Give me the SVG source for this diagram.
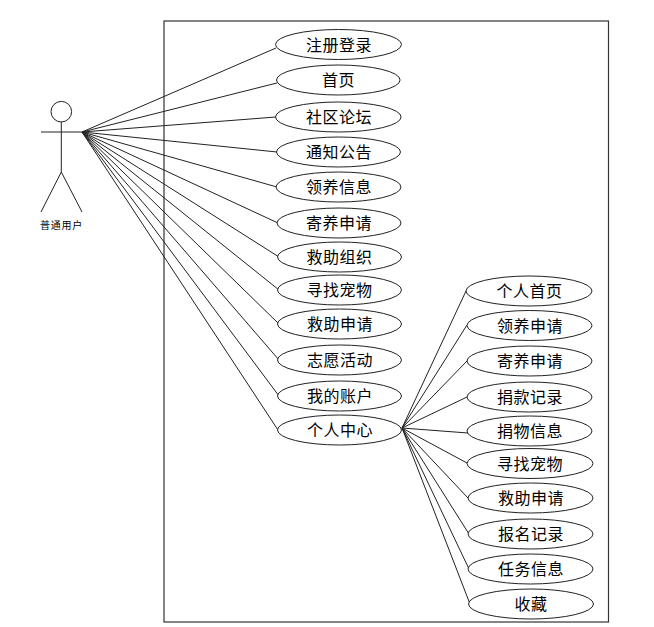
<svg xmlns="http://www.w3.org/2000/svg" width="654" height="627" viewBox="0 0 654 627">
<style>
.bg{fill:#fff}
.frame{fill:none;stroke:#333;stroke-width:1.2}
line{stroke:#222;stroke-width:1}
ellipse{fill:#fff;stroke:#222;stroke-width:1}
.actor{fill:none;stroke:#222;stroke-width:1}
text{font-family:"Noto Sans CJK SC","Liberation Sans",sans-serif;font-size:16px;letter-spacing:0.5px;fill:#000;text-anchor:middle;dominant-baseline:central;transform:translateY(-1px)}
.small{font-size:10px;letter-spacing:0.8px}
</style>
<rect class="bg" width="654" height="627"/>
<rect class="frame" x="164" y="21" width="444.5" height="601"/>
<g id="connectors">
<line x1="82" y1="132" x2="276" y2="48"/>
<line x1="82" y1="132" x2="277" y2="83"/>
<line x1="82" y1="132" x2="276" y2="117"/>
<line x1="82" y1="132" x2="277" y2="152"/>
<line x1="82" y1="132" x2="277" y2="187"/>
<line x1="82" y1="132" x2="278" y2="223"/>
<line x1="82" y1="132" x2="279" y2="257"/>
<line x1="82" y1="132" x2="279" y2="290"/>
<line x1="82" y1="132" x2="279" y2="324"/>
<line x1="82" y1="132" x2="279" y2="360"/>
<line x1="82" y1="132" x2="279" y2="396"/>
<line x1="82" y1="132" x2="278" y2="430"/>
<line x1="402" y1="428" x2="466" y2="291"/>
<line x1="402" y1="428" x2="467" y2="325"/>
<line x1="402" y1="428" x2="467" y2="361"/>
<line x1="402" y1="428" x2="467" y2="397"/>
<line x1="402" y1="428" x2="468" y2="433"/>
<line x1="402" y1="428" x2="467" y2="463"/>
<line x1="402" y1="428" x2="468" y2="498"/>
<line x1="402" y1="428" x2="469" y2="534"/>
<line x1="402" y1="428" x2="469" y2="569"/>
<line x1="402" y1="428" x2="470" y2="604"/>
</g>
<g id="actor">
<circle class="actor" cx="61.3" cy="111.7" r="10.3"/>
<path class="actor" d="M61.3 122V172M41 132H82M61.3 172L41 212M61.3 172L82 212"/>
<text class="small" x="61.5" y="225">普通用户</text>
</g>
<g id="n1"><ellipse cx="338.5" cy="44.5" rx="63" ry="15"/><text x="339" y="44.5">注册登录</text></g>
<g id="n2"><ellipse cx="338.3" cy="80" rx="61.8" ry="15"/><text x="338.5" y="80">首页</text></g>
<g id="n3"><ellipse cx="338.3" cy="117" rx="62.8" ry="15"/><text x="339" y="117">社区论坛</text></g>
<g id="n4"><ellipse cx="338.5" cy="152" rx="62" ry="15"/><text x="339" y="152">通知公告</text></g>
<g id="n5"><ellipse cx="338.5" cy="187" rx="62.5" ry="15"/><text x="339" y="187">领养信息</text></g>
<g id="n6"><ellipse cx="339" cy="223" rx="62" ry="15"/><text x="339" y="223">寄养申请</text></g>
<g id="n7"><ellipse cx="339.5" cy="257" rx="62" ry="15"/><text x="339.5" y="257">救助组织</text></g>
<g id="n8"><ellipse cx="339.5" cy="290" rx="62" ry="15"/><text x="339.5" y="290">寻找宠物</text></g>
<g id="n9"><ellipse cx="339.5" cy="324" rx="62" ry="15"/><text x="340" y="324">救助申请</text></g>
<g id="n10"><ellipse cx="339.5" cy="360" rx="62" ry="15"/><text x="340" y="360">志愿活动</text></g>
<g id="n11"><ellipse cx="339.5" cy="396" rx="62" ry="15"/><text x="340" y="396">我的账户</text></g>
<g id="n12"><ellipse cx="339.5" cy="430" rx="62" ry="15"/><text x="340" y="430">个人中心</text></g>
<g id="n13"><ellipse cx="529" cy="291" rx="63" ry="15"/><text x="529.5" y="291">个人首页</text></g>
<g id="n14"><ellipse cx="529.5" cy="325.5" rx="62.5" ry="15"/><text x="530" y="325.5">领养申请</text></g>
<g id="n15"><ellipse cx="529.5" cy="361" rx="62.5" ry="15"/><text x="530" y="361">寄养申请</text></g>
<g id="n16"><ellipse cx="529.5" cy="397" rx="62.5" ry="15"/><text x="530" y="397">捐款记录</text></g>
<g id="n17"><ellipse cx="529.5" cy="431" rx="62.5" ry="15"/><text x="530" y="431">捐物信息</text></g>
<g id="n18"><ellipse cx="530" cy="463.5" rx="63" ry="15"/><text x="530" y="463.5">寻找宠物</text></g>
<g id="n19"><ellipse cx="530.5" cy="498" rx="62.5" ry="15"/><text x="531" y="498">救助申请</text></g>
<g id="n20"><ellipse cx="530.5" cy="534" rx="62.5" ry="15"/><text x="531" y="534">报名记录</text></g>
<g id="n21"><ellipse cx="530.5" cy="569" rx="62.5" ry="15"/><text x="531" y="569">任务信息</text></g>
<g id="n22"><ellipse cx="531" cy="604" rx="62.5" ry="15"/><text x="531" y="604">收藏</text></g>
</svg>
